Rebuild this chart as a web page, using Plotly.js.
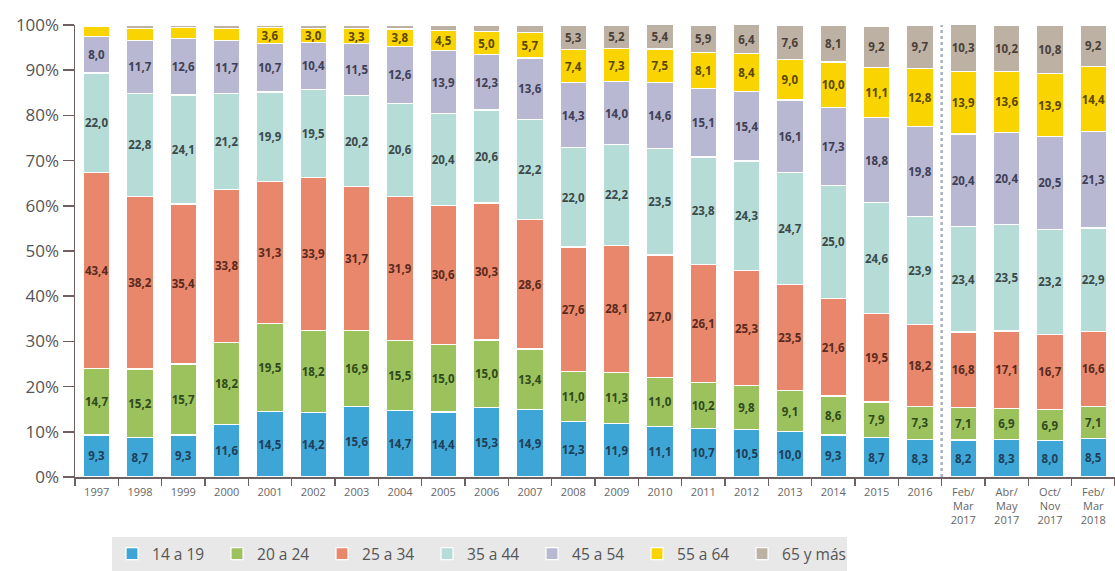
<!DOCTYPE html>
<html>
<head>
<meta charset="utf-8">
<script src="https://cdn.plot.ly/plotly-3.0.1.min.js"></script>
<style>html,body{margin:0;padding:0;background:#fff;}#chart{width:1115px;height:571px;}</style>
</head>
<body>
<div id="chart"></div>
<script>
const categories = ["1997","1998","1999","2000","2001","2002","2003","2004","2005","2006","2007","2008","2009","2010","2011","2012","2013","2014","2015","2016","Feb/<br>Mar<br>2017","Abr/<br>May<br>2017","Oct/<br>Nov<br>2017","Feb/<br>Mar<br>2018"];
const seriesNames = ["14 a 19","20 a 24","25 a 34","35 a 44","45 a 54","55 a 64","65 y más"];
const age14_19 = [9.3,8.7,9.3,11.6,14.5,14.2,15.6,14.7,14.4,15.3,14.9,12.3,11.9,11.1,10.7,10.5,10.0,9.3,8.7,8.3,8.2,8.3,8.0,8.5];
const age20_24 = [14.7,15.2,15.7,18.2,19.5,18.2,16.9,15.5,15.0,15.0,13.4,11.0,11.3,11.0,10.2,9.8,9.1,8.6,7.9,7.3,7.1,6.9,6.9,7.1];
const age25_34 = [43.4,38.2,35.4,33.8,31.3,33.9,31.7,31.9,30.6,30.3,28.6,27.6,28.1,27.0,26.1,25.3,23.5,21.6,19.5,18.2,16.8,17.1,16.7,16.6];
const age35_44 = [22.0,22.8,24.1,21.2,19.9,19.5,20.2,20.6,20.4,20.6,22.2,22.0,22.2,23.5,23.8,24.3,24.7,25.0,24.6,23.9,23.4,23.5,23.2,22.9];
const age45_54 = [8.0,11.7,12.6,11.7,10.7,10.4,11.5,12.6,13.9,12.3,13.6,14.3,14.0,14.6,15.1,15.4,16.1,17.3,18.8,19.8,20.4,20.4,20.5,21.3];
const age55_64 = [2.2,2.6,2.3,2.8,3.6,3.0,3.3,3.8,4.5,5.0,5.7,7.4,7.3,7.5,8.1,8.4,9.0,10.0,11.1,12.8,13.9,13.6,13.9,14.4];
const age65plus = [0.4,0.8,0.6,0.7,0.5,0.8,0.8,0.9,1.2,1.5,1.6,5.3,5.2,5.4,5.9,6.4,7.6,8.1,9.2,9.7,10.3,10.2,10.8,9.2];

const allSeries = [age14_19, age20_24, age25_34, age35_44, age45_54, age55_64, age65plus];
const colors = ["#3ea6d6","#9cc25d","#e8876b","#b6dcd8","#b8b8d2","#fad400","#bdb1a3"];
const textColors = ["#1f3f58","#2f4a1c","#5a2a1e","#3b4a4a","#3f3f55","#5a4800","#4a4038"];

const fmt = v => v >= 3 ? v.toFixed(1).replace('.', ',') : '';

const traces = allSeries.map((vals, i) => ({
  type: 'bar',
  name: seriesNames[i],
  x: categories,
  y: vals,
  text: vals.map(fmt),
  textposition: 'inside',
  insidetextanchor: 'middle',
  textangle: 0,
  constraintext: 'none',
  textfont: {family: 'Open Sans, sans-serif', size: 11.5, color: textColors[i], weight: 'bold'},
  marker: {color: colors[i], line: {color: '#ffffff', width: 1.2}},
  hoverinfo: 'none'
}));

const layout = {
  width: 1115, height: 571,
  margin: {l: 75, r: 0, t: 25, b: 93},
  barmode: 'stack',
  bargap: 0.39,
  paper_bgcolor: '#ffffff',
  plot_bgcolor: '#ffffff',
  font: {family: 'Open Sans, sans-serif', color: '#555'},
  xaxis: {
    type: 'category',
    range: [-0.5, 23.5],
    showline: true, linecolor: '#6e6060', linewidth: 1.5,
    ticks: 'outside', ticklen: 7, tickcolor: '#6e6060', tickwidth: 1.5,
    tickson: 'boundaries', ticklabelstandoff: 4,
    tickfont: {size: 11, color: '#666'},
    automargin: false, showgrid: false, zeroline: false, fixedrange: true
  },
  yaxis: {
    range: [0, 100],
    tickvals: [0,10,20,30,40,50,60,70,80,90,100],
    ticktext: ["0%","10%","20%","30%","40%","50%","60%","70%","80%","90%","100%"],
    showline: true, linecolor: '#6e6060', linewidth: 1.5,
    ticks: 'outside', ticklen: 11, tickcolor: '#6e6060', tickwidth: 1.5,
    tickfont: {size: 17, color: '#555'},
    showgrid: false, zeroline: false, automargin: false, fixedrange: true
  },
  showlegend: true,
  legend: {
    orientation: 'h', x: 0.0356, xanchor: 'left', y: -0.132, yanchor: 'top',
    bgcolor: '#e8e8e8', itemwidth: 30, entrywidth: 60,
    font: {size: 15.5, color: '#555'}, traceorder: 'normal'
  },
  shapes: [{
    type: 'line', xref: 'x', yref: 'y', x0: 19.5, x1: 19.5, y0: 0, y1: 102,
    line: {color: '#a7b3c0', width: 2.5, dash: 'dot'}
  }]
};

Plotly.newPlot('chart', traces, layout, {displayModeBar: false, staticPlot: true});
</script>
</body>
</html>
